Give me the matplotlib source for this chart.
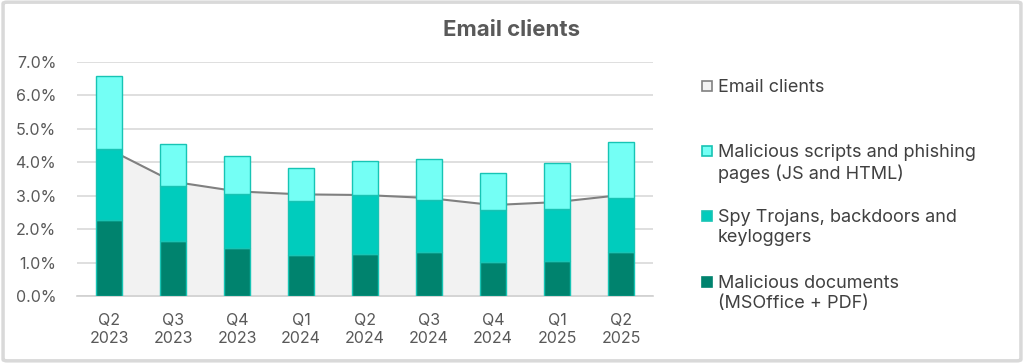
import matplotlib
matplotlib.use("Agg")
import matplotlib.pyplot as plt
from matplotlib.patches import Rectangle, FancyBboxPatch
from matplotlib.ticker import FuncFormatter

plt.rcParams['font.family'] = ['Inter', 'DejaVu Sans']

# quarters on the x axis
quarters = ["Q2\n2023", "Q3\n2023", "Q4\n2023", "Q1\n2024", "Q2\n2024",
            "Q3\n2024", "Q4\n2024", "Q1\n2025", "Q2\n2025"]

# stacked shares, in percent
docs = [2.27, 1.64, 1.45, 1.22, 1.26, 1.32, 1.01, 1.04, 1.31]
spy = [2.12, 1.65, 1.60, 1.62, 1.76, 1.56, 1.55, 1.55, 1.62]
scripts = [2.18, 1.25, 1.15, 0.99, 1.03, 1.23, 1.13, 1.40, 1.67]

# email clients share (area)
email = [4.39, 3.42, 3.13, 3.04, 3.02, 2.93, 2.72, 2.81, 3.02]

labels = ["Email clients",
          "Malicious scripts and phishing\npages (JS and HTML)",
          "Spy Trojans, backdoors and\nkeyloggers",
          "Malicious documents\n(MSOffice + PDF)"]

c_dark = "#00836e"
c_mid = "#00ccbd"
c_light = "#74fff5"
c_edge = "#17c4b4"

fig = plt.figure(figsize=(10.24, 3.63), dpi=100)
ax = fig.add_axes([0.0752, 0.1846, 0.5625, 0.6446])

x = list(range(len(quarters)))

# area first so bars sit on top
ax.fill_between(x, 0, email, color="#f2f2f2", zorder=1)
ax.plot(x, email, color="#808080", lw=1.5, zorder=2)

bot2 = [a + b for a, b in zip(docs, spy)]
w = 0.42
ax.bar(x, docs, w, color=c_dark, edgecolor=c_edge, lw=1, zorder=3)
ax.bar(x, spy, w, bottom=docs, color=c_mid, edgecolor=c_edge, lw=1, zorder=3)
ax.bar(x, scripts, w, bottom=bot2, color=c_light, edgecolor=c_edge, lw=1, zorder=3)

ax.set_xlim(-0.5, len(quarters) - 0.5)
ax.set_ylim(0, 7)
ax.set_yticks([0, 1, 2, 3, 4, 5, 6, 7])
ax.yaxis.set_major_formatter(FuncFormatter(lambda v, p: "%.1f%%" % v))
ax.set_xticks(x)
ax.set_xticklabels(quarters, linespacing=1.25)
ax.grid(axis="y", color="#d9d9d9", lw=1.2, zorder=0)
ax.set_axisbelow(True)
for s in ["top", "right", "left"]:
    ax.spines[s].set_visible(False)
ax.spines["bottom"].set_color("#d0d0d0")
ax.spines["bottom"].set_linewidth(1.2)
ax.tick_params(axis="y", length=0, pad=15, labelsize=11.5, labelcolor="#595959")
ax.tick_params(axis="x", length=0, pad=12, labelsize=11.5, labelcolor="#595959")

fig.text(0.5, 0.917, "Email clients", ha="center", va="center",
         fontsize=16, fontweight="bold", color="#595959")

# legend drawn by hand: one entry per 65 px
faces = ["#f2f2f2", c_light, c_mid, c_dark]
edges = ["#808080", c_edge, c_edge, c_dark]
ys = [86, 151, 216, 282]
for lab, fc, ec, yp in zip(labels, faces, edges, ys):
    yf = 1 - yp / 363
    fig.add_artist(Rectangle((702 / 1024, yf - 5 / 363), 10 / 1024, 10 / 363,
                             transform=fig.transFigure, facecolor=fc,
                             edgecolor=ec, lw=1.2))
    fig.text(718 / 1024, yf + 7 / 363, lab, ha="left", va="top",
             fontsize=13, color="#404040", linespacing=1.25)

# outer frame
fig.add_artist(FancyBboxPatch((0.003, 0.006), 0.994, 0.988,
                              boxstyle="round,pad=0,rounding_size=0.004",
                              transform=fig.transFigure, fill=False,
                              edgecolor="#d9d9d9", lw=2.5))

fig.savefig("out.png", dpi=100)
